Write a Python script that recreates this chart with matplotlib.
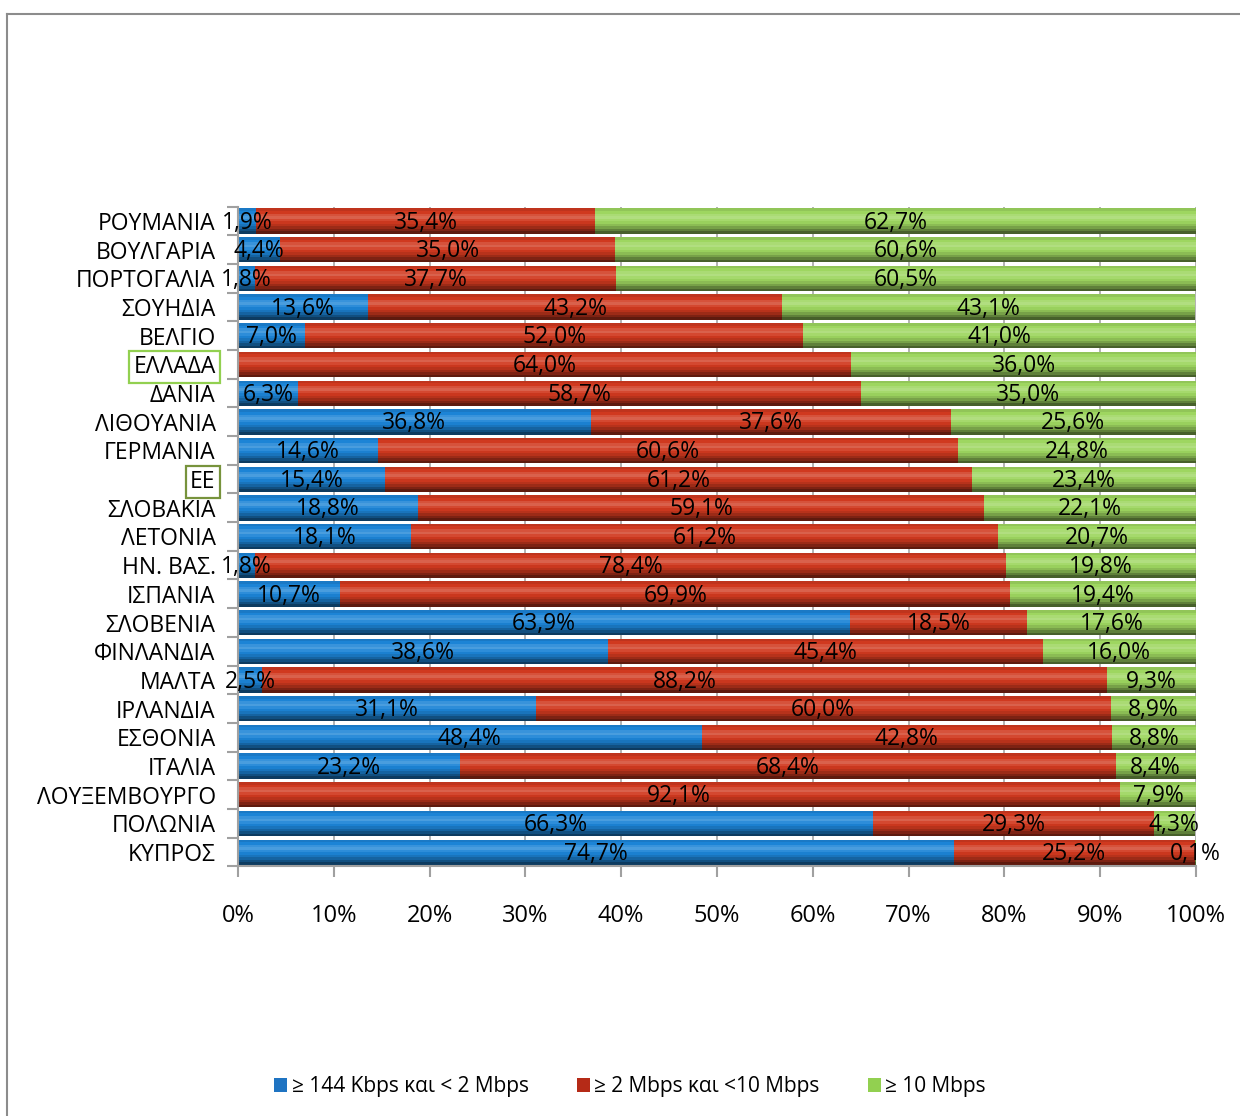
import numpy as np
import matplotlib
matplotlib.use('Agg')
import matplotlib.pyplot as plt
from matplotlib.patches import Patch
from matplotlib.colors import to_rgb

plt.rcParams['font.family'] = ['Open Sans', 'DejaVu Sans']

countries = ['ΡΟΥΜΑΝΙΑ', 'ΒΟΥΛΓΑΡΙΑ', 'ΠΟΡΤΟΓΑΛΙΑ', 'ΣΟΥΗΔΙΑ', 'ΒΕΛΓΙΟ', 'ΕΛΛΑΔΑ',
             'ΔΑΝΙΑ', 'ΛΙΘΟΥΑΝΙΑ', 'ΓΕΡΜΑΝΙΑ', 'ΕΕ', 'ΣΛΟΒΑΚΙΑ', 'ΛΕΤΟΝΙΑ',
             'ΗΝ. ΒΑΣ.', 'ΙΣΠΑΝΙΑ', 'ΣΛΟΒΕΝΙΑ', 'ΦΙΝΛΑΝΔΙΑ', 'ΜΑΛΤΑ', 'ΙΡΛΑΝΔΙΑ',
             'ΕΣΘΟΝΙΑ', 'ΙΤΑΛΙΑ', 'ΛΟΥΞΕΜΒΟΥΡΓΟ', 'ΠΟΛΩΝΙΑ', 'ΚΥΠΡΟΣ']
low = [1.9, 4.4, 1.8, 13.6, 7.0, 0.0, 6.3, 36.8, 14.6, 15.4, 18.8, 18.1,
       1.8, 10.7, 63.9, 38.6, 2.5, 31.1, 48.4, 23.2, 0.0, 66.3, 74.7]
mid = [35.4, 35.0, 37.7, 43.2, 52.0, 64.0, 58.7, 37.6, 60.6, 61.2, 59.1, 61.2,
       78.4, 69.9, 18.5, 45.4, 88.2, 60.0, 42.8, 68.4, 92.1, 29.3, 25.2]
high = [62.7, 60.6, 60.5, 43.1, 41.0, 36.0, 35.0, 25.6, 24.8, 23.4, 22.1, 20.7,
        19.8, 19.4, 17.6, 16.0, 9.3, 8.9, 8.8, 8.4, 7.9, 4.3, 0.1]
series_names = ['≥ 144 Kbps και < 2 Mbps', '≥ 2 Mbps και <10 Mbps', '≥ 10 Mbps']
colors = ['#1C84D6', '#D0391F', '#9ED660']
legend_colors = ['#1F74C2', '#B52A17', '#92D050']

fig = plt.figure(figsize=(12.4, 11.16), dpi=100)
ax = fig.add_axes([0.1919, 0.2237, 0.7726, 0.5912])

n = len(countries)
ypos = np.arange(n)
bar_h = 0.87

# shading profile, bottom -> top, to fake the glossy bars
shade = [0.45, 0.6, 0.75, 0.88, 0.97, 1.03, 1.08, 1.05, 1.0, 0.92]
nstrip = len(shade)


def shaded(c, f):
    r = np.array(to_rgb(c))
    if f > 1:
        return tuple(r + (1 - r) * (f - 1) * 2.5)
    return tuple(r * f)


left = np.zeros(n)
for vals, c in zip([low, mid, high], colors):
    vals = np.array(vals)
    for k, f in enumerate(shade):
        # strips from bottom of bar (larger y, axis inverted) to top
        yk = ypos + bar_h / 2 - (k + 0.5) * bar_h / nstrip
        hk = bar_h / nstrip * (1.25 if k < nstrip - 1 else 1.0)
        ax.barh(yk, vals, left=left, height=hk,
                color=shaded(c, f), linewidth=0, zorder=2)
    for i in range(n):
        if vals[i] > 0:
            ax.text(left[i] + vals[i] / 2, ypos[i] + 0.06,
                    '{:.1f}%'.format(vals[i]).replace('.', ','),
                    ha='center', va='center', fontsize=16.5, zorder=4)
    left = left + vals

ax.set_xlim(0, 100)
ax.set_ylim(n - 0.5, -0.5)
ax.set_xticks(np.arange(0, 101, 10))
ax.set_xticklabels(['{}%'.format(v) for v in range(0, 101, 10)], fontsize=17)
ax.set_yticks(ypos)
ax.set_yticklabels(countries, fontsize=16.5)
ax.set_yticks(np.arange(-0.5, n, 1), minor=True)
ax.tick_params(axis='y', which='major', length=0, pad=16)
ax.tick_params(axis='y', which='minor', length=8, color='#A0A0A0', width=1.5)
ax.tick_params(axis='x', length=8, color='#A0A0A0', width=1.5, pad=19)
ax.grid(axis='x', color='#A6A6A6', linewidth=1.2, zorder=0)
ax.set_axisbelow(True)
for s in ['top', 'right']:
    ax.spines[s].set_visible(False)
for s in ['left', 'bottom']:
    ax.spines[s].set_color('#A0A0A0')
    ax.spines[s].set_linewidth(1.5)

# boxes round two of the category labels
for lab in ax.get_yticklabels():
    if lab.get_text() == 'ΕΛΛΑΔΑ':
        lab.set_bbox(dict(facecolor='none', edgecolor='#92D050', linewidth=1.6, pad=3))
    elif lab.get_text() == 'ΕΕ':
        lab.set_bbox(dict(facecolor='none', edgecolor='#77933C', linewidth=1.6, pad=3))

handles = [Patch(facecolor=c, edgecolor='none') for c in legend_colors]
fig.legend(handles, series_names, loc='center', bbox_to_anchor=(0.508, 0.026),
           ncol=3, frameon=False, fontsize=15, handlelength=0.65, handleheight=0.65,
           handletextpad=0.2, columnspacing=2.3)

# outer chart frame
fig.add_artist(plt.Line2D([7 / 1240, 1], [1 - 14 / 1116] * 2, color='#8C8C8C',
                          linewidth=1.5, transform=fig.transFigure))
fig.add_artist(plt.Line2D([7 / 1240] * 2, [0, 1 - 14 / 1116], color='#8C8C8C',
                          linewidth=1.5, transform=fig.transFigure))

fig.savefig('out.png', dpi=100)
